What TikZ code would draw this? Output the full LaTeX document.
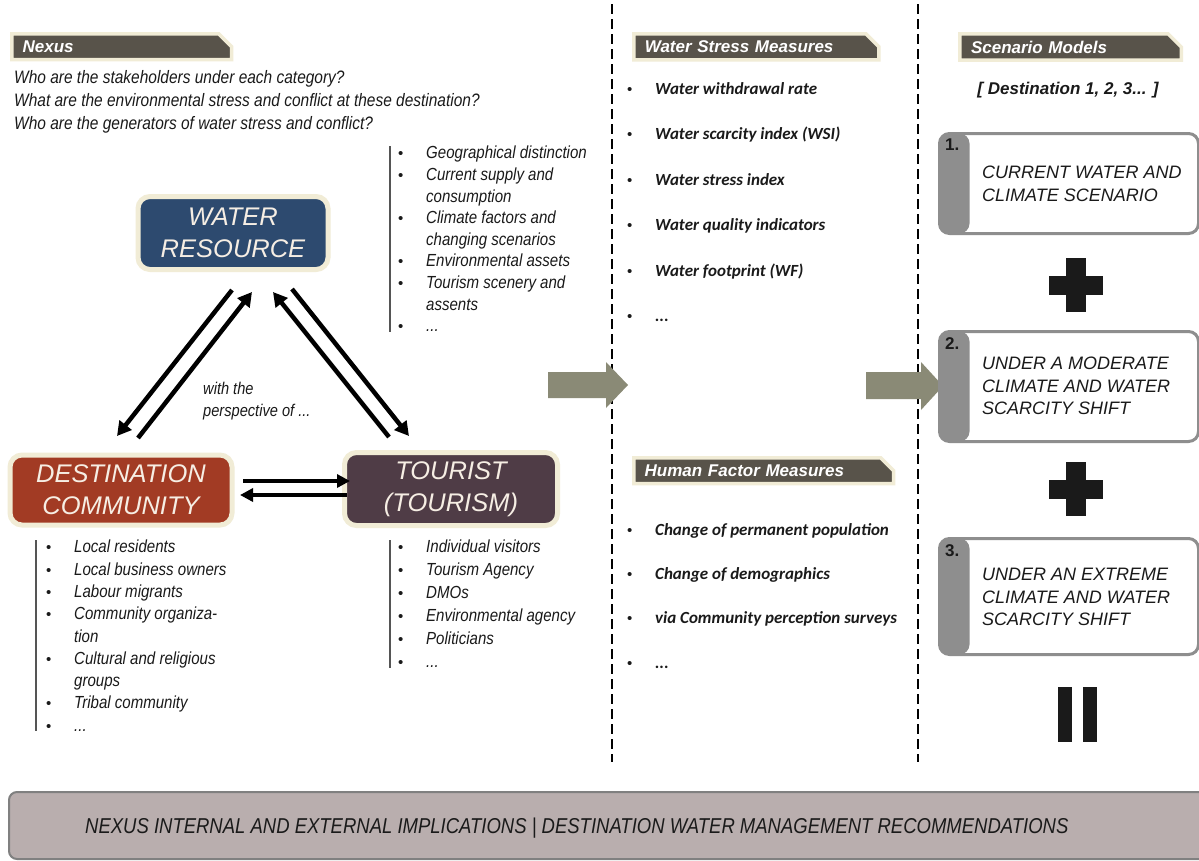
\documentclass[tikz,border=0pt]{standalone}
\usepackage{fontspec}
\setmainfont{Liberation Sans}
\newfontfamily\narrow[FakeStretch=0.86]{Liberation Sans}
\newfontfamily\carl{Carlito}
\usetikzlibrary{arrows.meta,calc,shapes.misc}
\definecolor{tabdark}{HTML}{58534A}
\definecolor{cream}{HTML}{F1ECD6}
\definecolor{wrblue}{HTML}{2D4A6F}
\definecolor{dcred}{HTML}{A23B24}
\definecolor{tplum}{HTML}{4F3C46}
\definecolor{garrow}{HTML}{8A8A76}
\definecolor{sgrey}{HTML}{8E8E8E}
\definecolor{barfill}{HTML}{B9AEAE}
\definecolor{barline}{HTML}{808080}
\definecolor{boxtext}{HTML}{F6EEE4}
\definecolor{listline}{HTML}{555555}
\definecolor{ink}{HTML}{1A1A1A}
\newcommand\bl{\makebox[28pt][l]{\raisebox{0pt}{\normalfont\upshape\fontsize{15}{15}\selectfont\textbullet}}}
\newcommand\ind{\hspace*{28pt}}
\tikzset{
  tab/.style={chamfered rectangle, chamfered rectangle corners=north east,
    chamfered rectangle xsep=7pt, chamfered rectangle ysep=7pt,
    draw=cream, line width=3.5pt, fill=tabdark, text=white,
    font=\fontsize{17}{20}\selectfont\bfseries\itshape, anchor=north west,
    inner xsep=5pt, inner ysep=0pt, minimum height=23pt, align=left},
  mainbox/.style={rounded corners=12pt, draw=cream, line width=5pt,
    text=boxtext, align=center, inner sep=0pt,
    font=\fontsize{25.5}{32}\selectfont\itshape},
  narrowlist/.style={anchor=north west, inner sep=0pt, align=left, text=ink,
    font=\narrow\itshape\fontsize{17.5}{21.6}\selectfont},
  boldlist/.style={anchor=north west, inner sep=0pt, align=left, text=ink,
    font=\carl\bfseries\itshape\fontsize{17}{45.5}\selectfont},
  vline/.style={draw=listline, line width=1.3pt},
  divider/.style={draw=black, line width=1.5pt, dash pattern=on 10pt off 5pt},
  bigarr/.style={line width=4.5pt, -{Triangle[length=14pt,width=15pt]}},
  midarr/.style={line width=4.5pt, -{Triangle[length=13pt,width=13pt]}},
  blockarr/.style={fill=garrow, draw=none},
  scbox/.style={draw=sgrey, line width=3pt, rounded corners=10pt, fill=white,
    minimum width=259pt, inner sep=0pt, anchor=north west,
    path picture={\fill[sgrey] (path picture bounding box.north west) rectangle
      ([xshift=30pt]path picture bounding box.south west);}},
  scnum/.style={anchor=north west, inner sep=0pt, text=ink,
    font=\fontsize{17}{20}\selectfont\bfseries},
  sctext/.style={anchor=west, inner sep=0pt, align=left, text=ink,
    font=\fontsize{18}{22.5}\selectfont\itshape},
  blackbar/.style={fill=ink, draw=none}
}
\begin{document}
\begin{tikzpicture}[x=1pt,y=-1pt]
\useasboundingbox[fill=white] (0,0) rectangle (1199,860);

% dividers
\coordinate (d1t) at (612,4); \coordinate (d1b) at (612,762);
\coordinate (d2t) at (918,4); \coordinate (d2b) at (918,762);
\draw[divider] (d1t) -- (d1b);
\draw[divider] (d2t) -- (d2b);

% Nexus column
\node[tab, text width=198pt] (nexus) at (10,32) {Nexus};
\node[anchor=north west, inner sep=0pt, align=left, text=ink,
  font=\narrow\itshape\fontsize{18}{23}\selectfont] (questions) at (14,70)
  {Who are the stakeholders under each category?\\
   What are the environmental stress and conflict at these destination?\\
   Who are the generators of water stress and conflict?};

\node[mainbox, fill=wrblue, minimum width=190pt, minimum height=73pt] (wr) at (233,233) {WATER\\RESOURCE};
\node[mainbox, fill=dcred, minimum width=222pt, minimum height=70pt] (dc) at (121,490) {DESTINATION\\COMMUNITY};
\node[mainbox, fill=tplum, minimum width=213pt, minimum height=73pt] (tr) at (451,489) {TOURIST\\(TOURISM)};

% water resource list
\node[narrowlist] (wrlist) at (398,146)
  {\bl Geographical distinction\\
   \bl Current supply and\\
   \ind consumption\\
   \bl Climate factors and\\
   \ind changing scenarios\\
   \bl Environmental assets\\
   \bl Tourism scenery and\\
   \ind assents\\
   \bl ...};
\draw[vline] ([xshift=-8pt]wrlist.north west) -- ([xshift=-8pt]wrlist.south west);

% destination list
\node[narrowlist, font=\narrow\itshape\fontsize{17.5}{22.3}\selectfont] (dclist) at (46,540)
  {\bl Local residents\\
   \bl Local business owners\\
   \bl Labour migrants\\
   \bl Community organiza-\\
   \ind tion\\
   \bl Cultural and religious\\
   \ind groups\\
   \bl Tribal community\\
   \bl ...};
\draw[vline] ([xshift=-10pt]dclist.north west) -- ([xshift=-10pt]dclist.south west);

% tourist list
\node[narrowlist, font=\narrow\itshape\fontsize{17.5}{23}\selectfont] (trlist) at (398,540)
  {\bl Individual visitors\\
   \bl Tourism Agency\\
   \bl DMOs\\
   \bl Environmental agency\\
   \bl Politicians\\
   \bl ...};
\draw[vline] ([xshift=-8pt]trlist.north west) -- ([xshift=-8pt]trlist.south west);

% arrows of the triangle
\coordinate (a1s) at (232,290); \coordinate (a1e) at (117,436);
\coordinate (a2s) at (138,438); \coordinate (a2e) at (252,292);
\coordinate (a3s) at (389,437); \coordinate (a3e) at (273,292);
\coordinate (a4s) at (292,289); \coordinate (a4e) at (409,436);
\draw[bigarr] (a1s) -- (a1e);
\draw[bigarr] (a2s) -- (a2e);
\draw[bigarr] (a3s) -- (a3e);
\draw[bigarr] (a4s) -- (a4e);
\coordinate (h1s) at (243,481); \coordinate (h1e) at (350,481);
\coordinate (h2s) at (347,495); \coordinate (h2e) at (240,495);
\draw[midarr] (h1s) -- (h1e);
\draw[midarr] (h2s) -- (h2e);

\node[anchor=north west, inner sep=0pt, align=left, text=ink,
  font=\narrow\itshape\fontsize{17}{22}\selectfont] (persp) at (203,382)
  {with the\\perspective of ...};

% grey block arrows
\fill[blockarr] (548,372) -- (606,372) -- (606,362) -- (628,385) -- (606,408) -- (606,398) -- (548,398) -- cycle;
\fill[blockarr] (866,372) -- (921,372) -- (921,362) -- (943,386) -- (921,410) -- (921,399) -- (866,399) -- cycle;

% water stress column
\node[tab, text width=223pt] (wsm) at (632,32) {Water Stress Measures};
\node[boldlist] (wslist) at (627,82)
  {\bl Water withdrawal rate\\
   \bl Water scarcity index (WSI)\\
   \bl Water stress index\\
   \bl Water quality indicators\\
   \bl Water footprint (WF)\\
   \bl ...};
\node[tab, text width=238pt] (hfm) at (632,456) {Human Factor Measures};
\node[boldlist, font=\carl\bfseries\itshape\fontsize{17}{44.3}\selectfont] (hflist) at (627,523)
  {\bl Change of permanent population\\
   \bl Change of demographics\\
   \bl via Community perception surveys\\
   \bl ...};

% scenario column
\node[tab, text width=199pt] (scm) at (958,32) {Scenario Models};
\node[inner sep=0pt, text=ink, font=\fontsize{17}{20}\selectfont\bfseries\itshape] (dest) at (1068,90) {[ Destination 1, 2, 3... ]};

\node[scbox, minimum height=100pt] (s1) at (938,132) {};
\node[scnum] (n1) at (945,139) {1.};
\node[sctext] (t1) at (982,184) {CURRENT WATER AND\\CLIMATE SCENARIO};

\node[scbox, minimum height=110pt] (s2) at (938,330) {};
\node[scnum] (n2) at (945,337) {2.};
\node[sctext] (t2) at (982,386) {UNDER A MODERATE\\CLIMATE AND WATER\\SCARCITY SHIFT};

\node[scbox, minimum height=116pt] (s3) at (938,537) {};
\node[scnum] (n3) at (945,544) {3.};
\node[sctext] (t3) at (982,597) {UNDER AN EXTREME\\CLIMATE AND WATER\\SCARCITY SHIFT};

% plus signs
\fill[blackbar] (1066,258) rectangle (1086,312);
\fill[blackbar] (1049,276) rectangle (1103,295);
\fill[blackbar] (1066,462) rectangle (1086,516);
\fill[blackbar] (1049,480) rectangle (1103,499);
% equals bars
\fill[blackbar] (1058,687) rectangle (1072,742);
\fill[blackbar] (1083,687) rectangle (1097,742);

% bottom bar
\node[draw=barline, line width=2pt, fill=barfill, rounded corners=8pt,
  minimum width=1200pt, minimum height=67pt, anchor=north west, inner sep=0pt] (bar) at (8,791) {};
\node[anchor=west, inner sep=0pt, text=ink, font=\narrow\itshape\fontsize{21.5}{24}\selectfont] (bartext) at (85,828)
  {NEXUS INTERNAL AND EXTERNAL IMPLICATIONS | DESTINATION WATER MANAGEMENT RECOMMENDATIONS};
\end{tikzpicture}
\end{document}
